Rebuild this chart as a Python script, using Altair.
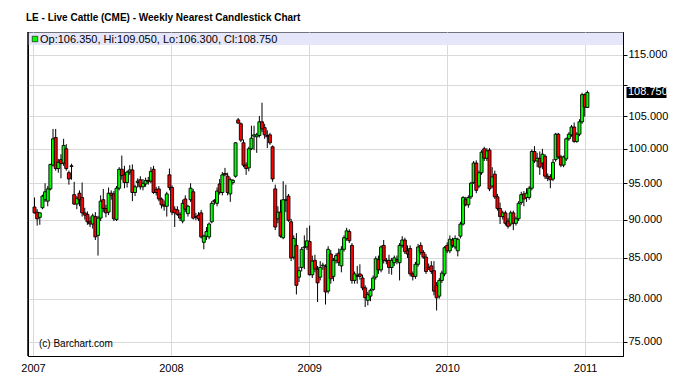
import altair as alt
import pandas as pd

# Weekly OHLC values (LE nearest futures, Jan 2007 - Jan 2011)
opens = [91.7, 91.0, 90.3, 91.6, 92.7, 92.5, 94.2, 97.6, 101.7, 97.1, 98.4, 97.9, 100.0, 96.5, 97.5,
         93.4, 92.1, 93.6, 93.0, 90.9, 90.7, 89.7, 89.4, 90.4, 87.9, 90.2, 92.7, 91.5, 91.0, 93.6,
         93.5, 90.0, 94.3, 97.0, 96.2, 95.1, 96.6, 96.9, 93.7, 95.1, 95.5, 94.5, 94.9, 95.4, 95.3,
         97.0, 94.1, 94.2, 92.8, 92.0, 91.8, 96.2, 94.4, 91.4, 91.3, 90.7, 89.8, 92.8, 90.8, 92.7,
         93.8, 90.4, 90.6, 90.9, 87.0, 87.8, 87.7, 89.7, 92.6, 92.2, 94.9, 93.7,
         96.4, 96.0, 93.5, 95.1, 96.0, 104.4, 103.8, 100.9, 97.6, 97.2, 100.0, 101.9, 101.8, 102.0,
         104.1, 103.2, 102.0, 102.1, 100.3, 94.2, 90.1, 91.0, 87.6, 92.6, 93.2, 89.7, 85.1, 86.6,
         82.6, 83.8, 86.3, 86.4, 87.1, 82.9, 84.7, 83.6, 82.6, 84.0, 83.9, 80.9, 85.5, 82.7, 84.7,
         85.6, 84.0, 86.1, 87.5, 88.4, 86.6, 82.2, 82.7, 83.0, 82.5, 81.3, 79.8, 80.3, 81.1, 82.6,
         84.8, 83.5, 86.6, 84.7, 84.7, 83.8, 84.4, 84.8, 84.4, 86.6, 87.3, 85.9, 86.2, 83.0,
         82.7, 84.2, 86.6, 85.7, 85.1, 83.8, 84.0, 83.4, 81.6, 80.3, 82.2, 83.0, 86.6, 85.9, 87.3,
         86.4, 85.9, 87.8, 89.4, 92.7, 92.0, 93.1, 95.1, 97.9, 94.6, 96.5, 100.0, 98.6, 99.8, 94.6,
         96.3, 93.1, 91.5, 90.4, 90.9, 89.8, 89.4, 90.9, 89.5, 90.1, 92.3, 93.5, 93.0, 93.0, 94.3,
         99.6, 98.2, 98.6, 97.9, 98.9, 96.0, 95.9, 95.6, 98.4, 102.2, 98.8, 97.6, 98.5, 101.5, 102.1,
         103.3, 101.1, 102.2, 104.1, 108.4, 106.35]
highs = [93.0, 91.4, 91.0, 93.4, 95.0, 94.6, 97.8, 103.0, 103.0, 98.5, 99.2, 101.5, 100.7, 96.8, 97.8,
         95.2, 93.2, 94.0, 95.1, 91.6, 91.1, 90.4, 90.8, 91.0, 90.5, 93.3, 94.2, 92.0, 94.4, 94.0,
         93.9, 94.6, 97.3, 99.0, 97.5, 96.8, 97.6, 97.7, 94.8, 95.7, 96.0, 95.6, 95.8, 95.9, 97.3,
         97.5, 94.5, 94.6, 93.0, 92.6, 93.8, 97.1, 94.7, 91.8, 91.8, 91.0, 92.7, 93.3, 92.0, 95.0,
         94.2, 90.9, 91.0, 91.3, 88.0, 89.0, 89.6, 92.5, 92.8, 94.4, 95.6, 96.6,
         97.2, 96.5, 95.8, 95.6, 101.0, 104.7, 104.0, 101.4, 98.0, 100.3, 103.5, 103.5, 102.4, 105.0,
         107.1, 103.8, 102.8, 102.4, 100.5, 94.8, 91.8, 92.7, 95.3, 94.8, 93.5, 90.1, 87.9, 88.2,
         83.9, 86.4, 87.9, 88.9, 89.2, 85.3, 85.4, 84.0, 84.6, 84.4, 84.2, 86.5, 86.0, 85.0, 85.6,
         86.2, 86.5, 87.9, 88.9, 88.7, 86.9, 83.3, 84.0, 84.2, 82.9, 81.6, 80.8, 81.2, 82.8, 85.2,
         85.3, 86.6, 87.3, 85.0, 85.4, 85.0, 85.3, 85.3, 86.9, 87.8, 87.6, 86.6, 86.6, 83.3,
         84.5, 86.8, 87.0, 86.0, 85.5, 84.3, 84.6, 84.6, 82.0, 82.5, 83.4, 86.5, 87.0, 87.9, 87.6,
         87.9, 87.6, 89.7, 93.2, 93.1, 93.3, 95.2, 98.2, 98.3, 96.8, 99.8, 100.3, 100.1, 100.1, 97.3,
         96.8, 93.5, 92.3, 91.2, 91.2, 90.2, 91.2, 91.2, 90.4, 92.5, 93.8, 93.9, 94.3, 94.6, 99.9,
         100.4, 99.4, 99.6, 100.0, 99.2, 96.4, 96.3, 98.5, 102.4, 102.4, 99.1, 99.0, 101.7, 102.5, 103.6,
         104.0, 102.5, 104.5, 108.7, 108.6, 109.05]
lows = [90.8, 89.2, 89.3, 91.4, 92.4, 91.8, 94.0, 97.4, 96.8, 96.5, 95.7, 97.5, 96.8, 94.8, 95.5,
        92.0, 91.4, 91.8, 90.4, 90.0, 89.3, 89.0, 88.8, 87.3, 85.3, 89.8, 91.0, 90.3, 90.6, 92.7,
        89.8, 89.8, 94.0, 95.5, 94.3, 94.4, 96.2, 92.5, 93.2, 94.4, 94.1, 94.0, 94.5, 94.8, 95.0,
        93.5, 93.3, 92.5, 91.5, 91.2, 90.4, 94.0, 90.6, 89.0, 90.5, 89.8, 89.5, 91.0, 90.4, 92.4,
        90.0, 89.9, 89.8, 87.5, 86.1, 87.3, 87.4, 89.5, 92.0, 91.8, 93.4, 93.3,
        96.0, 93.3, 92.4, 94.8, 95.8, 103.8, 101.0, 97.3, 96.2, 96.7, 99.8, 99.8, 99.4, 101.7,
        102.5, 101.5, 100.1, 100.6, 95.2, 88.6, 89.5, 87.6, 87.4, 91.0, 89.7, 84.6, 84.8, 80.5,
        82.0, 83.3, 83.6, 86.0, 82.8, 82.5, 83.2, 79.6, 82.2, 83.5, 79.3, 80.6, 81.8, 82.1, 84.3,
        84.0, 83.2, 85.8, 87.2, 86.9, 81.8, 81.8, 81.8, 82.3, 81.0, 79.0, 79.2, 79.7, 80.9, 82.3,
        83.0, 83.2, 84.3, 84.2, 83.0, 82.9, 84.0, 84.2, 82.2, 86.3, 85.5, 85.0, 82.7, 82.2,
        82.4, 83.9, 85.4, 84.9, 83.0, 83.5, 83.0, 80.4, 78.6, 80.0, 81.9, 82.7, 85.6, 85.6, 86.3,
        86.1, 85.2, 87.5, 89.2, 91.8, 91.6, 92.8, 94.9, 93.6, 94.3, 96.2, 98.2, 98.2, 93.9, 94.3,
        92.8, 91.2, 89.4, 90.0, 89.2, 88.8, 89.1, 88.6, 89.2, 89.8, 92.0, 91.8, 92.4, 92.7, 94.0,
        97.9, 97.3, 96.2, 97.0, 95.6, 95.3, 94.3, 95.3, 98.1, 98.5, 97.3, 97.3, 98.2, 101.2, 101.8,
        100.9, 100.9, 101.9, 103.8, 104.9, 106.3]
closes = [90.9, 90.1, 90.9, 93.2, 93.8, 94.2, 97.7, 101.5, 97.1, 98.0, 97.8, 100.5, 97.1, 95.6, 97.4,
          92.1, 92.9, 92.7, 90.9, 90.6, 89.7, 89.4, 90.5, 87.7, 90.2, 92.5, 91.5, 90.9, 93.6, 93.3,
          90.1, 94.3, 97.0, 96.1, 95.1, 96.6, 96.9, 93.7, 94.5, 95.3, 94.5, 95.0, 95.4, 95.2, 96.7,
          93.7, 93.7, 92.8, 92.0, 91.8, 93.5, 94.4, 91.0, 90.9, 90.7, 90.2, 92.2, 91.4, 91.8, 94.3,
          90.2, 90.3, 90.1, 87.7, 87.8, 88.4, 89.4, 92.2, 92.4, 93.9, 93.7, 96.2,
          96.2, 93.7, 95.5, 95.4, 100.9, 103.9, 101.3, 97.6, 97.1, 100.0, 101.6, 102.1, 102.1, 104.1,
          103.0, 102.1, 101.8, 100.9, 95.6, 89.0, 91.0, 87.8, 92.7, 92.7, 89.9, 85.0, 87.5, 81.6,
          83.4, 86.1, 86.4, 87.2, 82.9, 84.6, 83.6, 81.9, 83.8, 84.1, 80.8, 86.1, 82.4, 84.7, 85.3,
          84.4, 86.1, 87.6, 88.5, 87.2, 82.2, 83.0, 82.8, 82.7, 81.3, 80.1, 80.5, 81.0, 82.5, 84.9,
          83.5, 86.4, 84.7, 84.6, 83.8, 84.7, 85.0, 84.6, 86.6, 87.3, 85.8, 85.5, 83.0, 82.7,
          84.2, 86.4, 85.7, 85.1, 83.3, 83.6, 83.3, 80.9, 80.1, 82.2, 83.1, 86.3, 85.9, 87.4, 86.6,
          87.5, 87.4, 89.4, 93.0, 92.0, 93.0, 95.0, 97.9, 94.0, 96.5, 99.5, 98.6, 99.7, 94.2, 95.9,
          93.1, 91.5, 90.4, 90.9, 89.5, 89.1, 90.9, 89.5, 90.1, 92.2, 93.4, 92.8, 93.6, 94.3, 99.6,
          98.2, 98.6, 97.3, 99.2, 96.0, 95.7, 95.5, 98.0, 102.2, 98.8, 97.6, 98.8, 101.5, 102.2, 103.3,
          101.1, 102.2, 104.1, 108.4, 106.4, 108.75]

title_text = "LE - Live Cattle (CME) - Weekly Nearest Candlestick Chart"
credit_text = "(c) Barchart.com"
price_ticks = [75, 80, 85, 90, 95, 100, 105, 110, 115]
year_ticks = [2007, 2008, 2009, 2010, 2011]

GREEN = "#00ff00"
RED = "#ff0000"
GRID = "#d9d9d9"
FONT = "Liberation Sans"
W, H = 595, 324

n = len(opens)
dates = pd.date_range("2007-01-05", periods=n, freq="7D")
df = pd.DataFrame({
    "date": dates, "open": opens, "high": highs, "low": lows, "close": closes,
    "dir": ["up" if c >= o else "down" for o, c in zip(opens, closes)],
})

y_scale = alt.Scale(type="log", domain=[73.45, 119], nice=False)
x_scale = alt.Scale(domain=[alt.DateTime(year=2007, month=1, date=1),
                            alt.DateTime(year=2011, month=3, date=29)])

x_axis = alt.Axis(values=[alt.DateTime(year=y, month=1, date=1) for y in year_ticks],
                  format="%Y", tickSize=0, labelPadding=6, grid=True, gridColor=GRID,
                  domainColor="black", labelFlush=False, labelOverlap=False,
                  labelFont=FONT, labelFontSize=11, labelColor="black", title=None)
y_axis = alt.Axis(orient="right", values=price_ticks,
                  labelExpr="datum.value == 110 ? '' : format(datum.value, '.3f')",
                  tickSize=4, tickColor="black", labelPadding=1, domainColor="black",
                  grid=True, gridColor=GRID, labelOverlap=False,
                  labelFont=FONT, labelFontSize=11, labelColor="black", title=None)

X = alt.X("date:T", scale=x_scale, axis=x_axis)

wicks = alt.Chart(df).mark_rule(color="black", strokeWidth=1).encode(
    x=X, y=alt.Y("low:Q", scale=y_scale, axis=y_axis), y2="high:Q",
)
bodies = alt.Chart(df).mark_bar(size=3, stroke="black", strokeWidth=0.9).encode(
    x=X, y=alt.Y("open:Q", scale=y_scale, axis=y_axis), y2="close:Q",
    fill=alt.Fill("dir:N", scale=alt.Scale(domain=["up", "down"], range=[GREEN, RED]), legend=None),
)

one = pd.DataFrame({"k": [0]})
band = alt.Chart(one).mark_rect(fill="#e6e6fa").encode(
    x=alt.value(0), x2=alt.value(W), y=alt.value(0.5), y2=alt.value(13))
swatch = alt.Chart(one).mark_square(size=30, fill=GREEN, stroke="black", strokeWidth=0.6, opacity=1).encode(
    x=alt.value(7), y=alt.value(7))
legend_text = f"Op:{opens[-1]:.3f}, Hi:{highs[-1]:.3f}, Lo:{lows[-1]:.3f}, Cl:{closes[-1]:.3f}"
legend_lbl = alt.Chart(pd.DataFrame({"t": [legend_text]})).mark_text(
    align="left", baseline="middle", font=FONT, fontSize=11, color="black").encode(
    x=alt.value(12), y=alt.value(7.5), text="t:N")

title = alt.Chart(pd.DataFrame({"t": [title_text]})).mark_text(
    align="left", baseline="alphabetic", font=FONT, fontSize=10, fontWeight="bold", color="black").encode(
    x=alt.value(-2), y=alt.value(-11.5), text="t:N")
credit = alt.Chart(pd.DataFrame({"t": [credit_text]})).mark_text(
    align="left", baseline="alphabetic", font=FONT, fontSize=10, color="black").encode(
    x=alt.value(11), y=alt.value(315), text="t:N")

last = pd.DataFrame({"close": [closes[-1]], "lbl": [f"{closes[-1]:.3f}"]})
last_box = alt.Chart(last).mark_tick(thickness=11, size=40, color="black", opacity=1).encode(
    x=alt.value(W + 23.5), y=alt.Y("close:Q", scale=y_scale, axis=y_axis))
last_lbl = alt.Chart(last).mark_text(align="left", baseline="middle", font=FONT, fontSize=11,
                                     color="white").encode(
    x=alt.value(W + 5), y=alt.Y("close:Q", scale=y_scale, axis=y_axis), text="lbl:N")
left_edge = alt.Chart(one).mark_rule(color="black", strokeWidth=1.5).encode(
    x=alt.value(0), y=alt.value(0), y2=alt.value(H))

chart = alt.layer(wicks, bodies, band, swatch, legend_lbl, title, credit, last_box, last_lbl,
                  left_edge).properties(
    width=W, height=H, autosize="none", background="white",
    padding={"left": 20, "top": 24, "right": 50, "bottom": 21},
).configure_view(stroke="black", strokeWidth=1)

chart.save("out.html", embed_options={"renderer": "svg", "actions": False})
